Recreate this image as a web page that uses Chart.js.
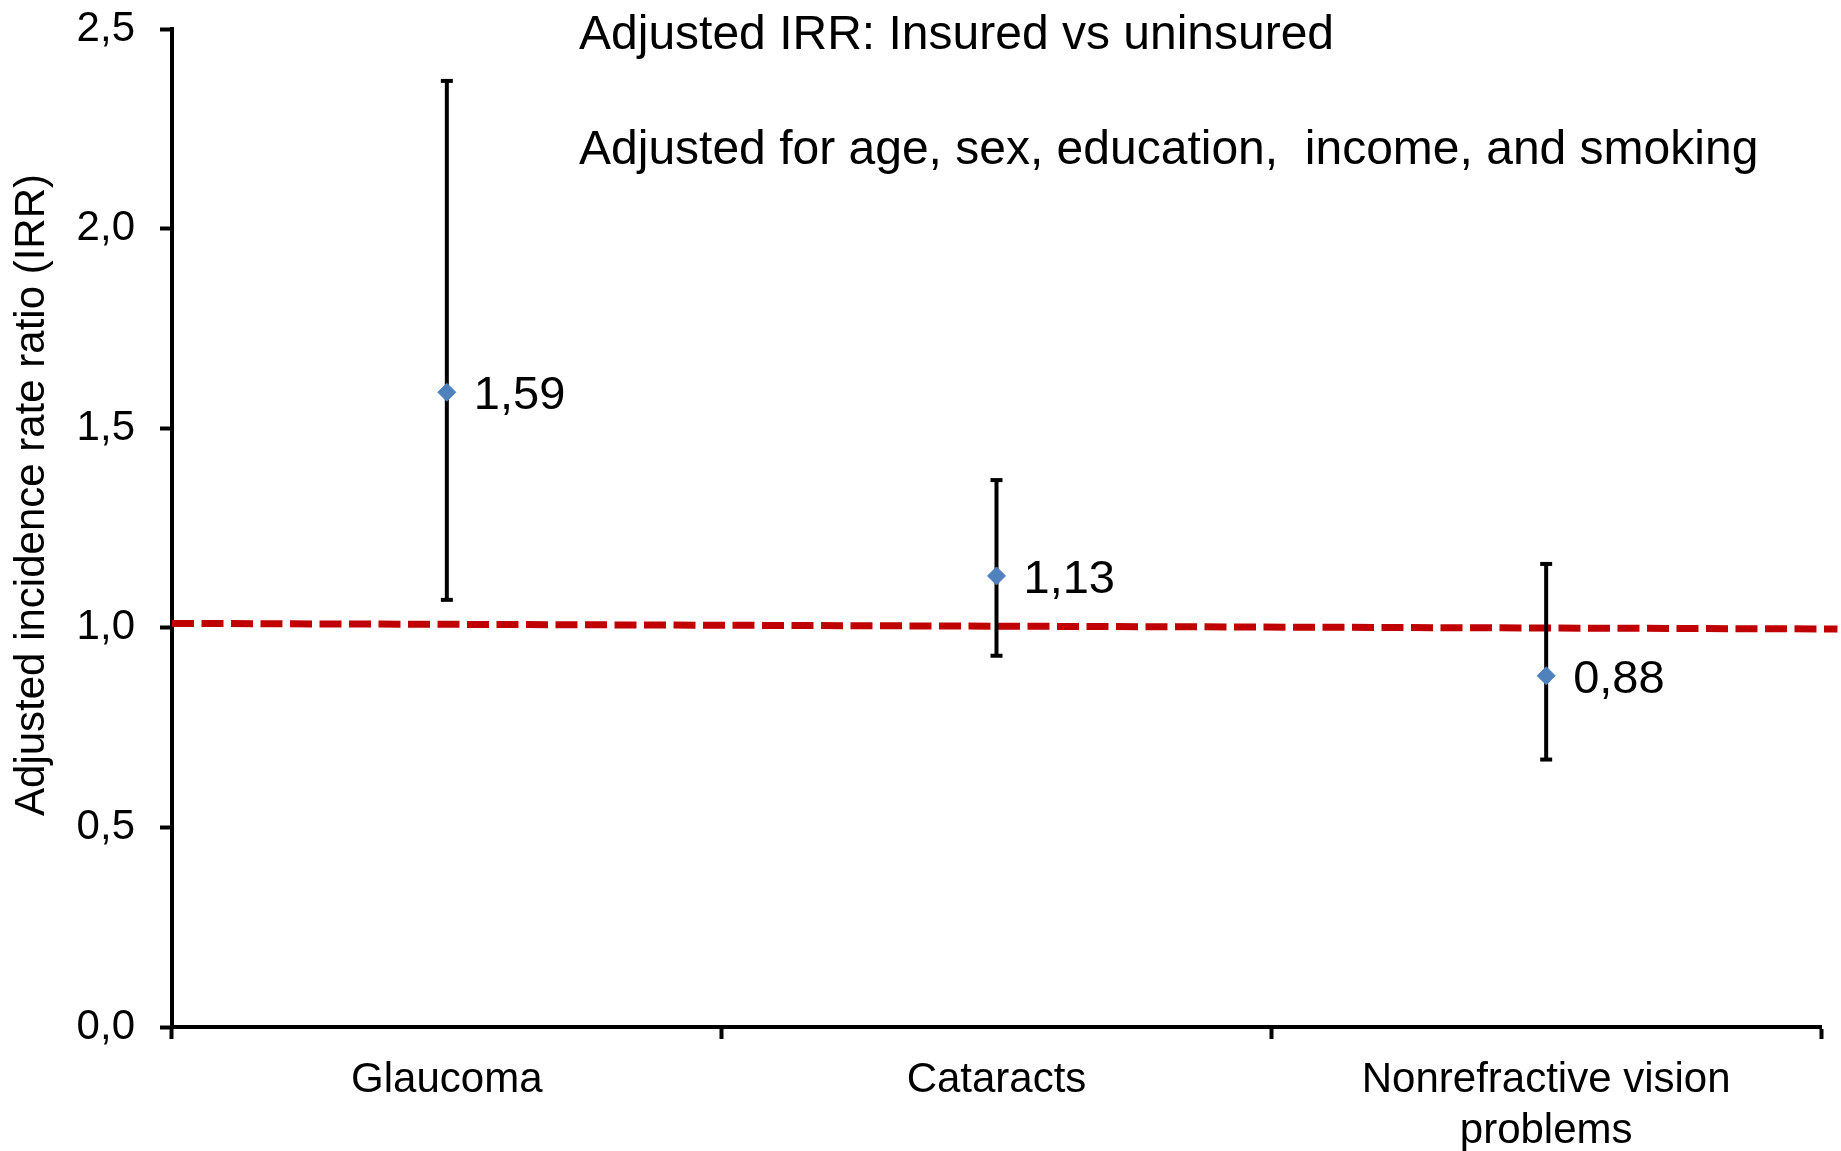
<!DOCTYPE html>
<html>
<head>
<meta charset="utf-8">
<script src="https://cdn.jsdelivr.net/npm/chart.js@4/dist/chart.umd.min.js"></script>
<style>
  html, body { margin: 0; padding: 0; background: #fff; }
  canvas { display: block; }
</style>
</head>
<body>
<canvas id="chart" width="1841" height="1151"></canvas>
<script>
// values
var categories = ['Glaucoma', 'Cataracts', ['Nonrefractive vision', 'problems']];
var irr = [1.59, 1.13, 0.88];
var ciLow = [1.07, 0.93, 0.67];
var ciHigh = [2.37, 1.37, 1.16];
// the red reference line (slightly tilted in the original)
var refLineX = [-0.5, 2.53];
var refLineY = [1.011, 0.997];
var yTitle = 'Adjusted incidence rate ratio (IRR)';
var notes = ['Adjusted IRR: Insured vs uninsured', 'Adjusted for age, sex, education,  income, and smoking'];

var FONT = '"Liberation Sans", Arial, sans-serif';

function fmt(v, d) {
    return v.toFixed(d).replace('.', ',');
}

var datasets = [];

// the IRR points
datasets.push({
    data: irr.map(function (v, i) { return { x: i, y: v }; }),
    xAxisID: 'xl',
    showLine: false,
    pointStyle: 'rectRot',
    pointRadius: 9,
    pointBackgroundColor: '#4F81BD',
    pointBorderColor: '#4F81BD',
    pointBorderWidth: 1,
    order: 0
});

// error bars, one small line dataset per category
irr.forEach(function (v, i) {
    datasets.push({
        data: [{ x: i, y: ciLow[i] }, { x: i, y: ciHigh[i] }],
        xAxisID: 'xl',
        borderColor: '#000',
        borderWidth: 4,
        pointStyle: 'line',
        pointRadius: 6,
        pointBorderColor: '#000',
        pointBorderWidth: 4,
        order: 1
    });
});

// dashed red line at ~1
datasets.push({
    data: refLineX.map(function (x, i) { return { x: x, y: refLineY[i] }; }),
    xAxisID: 'xl',
    borderColor: '#C00000',
    borderWidth: 7,
    borderDash: [22, 7.5],
    pointRadius: 0,
    clip: false,
    order: 2
});

var textPlugin = {
    id: 'texts',
    afterDatasetsDraw: function (chart) {
        var ctx = chart.ctx;
        var meta = chart.getDatasetMeta(0);
        ctx.save();
        ctx.fillStyle = '#000';
        ctx.textAlign = 'left';
        ctx.textBaseline = 'middle';
        ctx.font = '47px ' + FONT;
        meta.data.forEach(function (pt, i) {
            ctx.fillText(fmt(irr[i], 2), pt.x + 27, pt.y + 4);
        });
        ctx.font = '48px ' + FONT;
        ctx.fillText(notes[0], 579, 36);
        ctx.fillText(notes[1], 579, 151);
        ctx.translate(32, 495);
        ctx.rotate(-Math.PI / 2);
        ctx.textAlign = 'center';
        ctx.font = '42px ' + FONT;
        ctx.fillText(yTitle, 0, 0);
        ctx.restore();
    }
};

new Chart(document.getElementById('chart').getContext('2d'), {
    type: 'line',
    data: {
        labels: categories,
        datasets: datasets
    },
    options: {
        responsive: false,
        animation: false,
        devicePixelRatio: 1,
        layout: { padding: { top: 29, right: 20, left: 0, bottom: 0 } },
        plugins: {
            legend: { display: false },
            tooltip: { enabled: false }
        },
        scales: {
            x: {
                type: 'category',
                offset: true,
                grid: {
                    offset: true,
                    drawOnChartArea: false,
                    tickLength: 12,
                    tickWidth: 4,
                    tickColor: '#000'
                },
                border: { color: '#000', width: 4 },
                ticks: {
                    color: '#000',
                    padding: 16,
                    maxRotation: 0,
                    autoSkip: false,
                    font: { family: FONT, size: 42, lineHeight: 1.22 }
                },
                afterFit: function (scale) {
                    scale.height = 124;
                    scale.paddingLeft = 0;
                    scale.paddingRight = 0;
                }
            },
            xl: {
                type: 'linear',
                position: 'bottom',
                display: false,
                min: -0.5,
                max: 2.5
            },
            y: {
                min: 0,
                max: 2.5,
                grid: {
                    drawOnChartArea: false,
                    tickLength: 12,
                    tickWidth: 4,
                    tickColor: '#000'
                },
                border: { color: '#000', width: 4 },
                ticks: {
                    stepSize: 0.5,
                    color: '#000',
                    padding: 25,
                    font: { family: FONT, size: 42 },
                    callback: function (v) { return fmt(v, 1); }
                },
                afterFit: function (scale) {
                    scale.width = 172;
                    scale.paddingTop = 0;
                    scale.paddingBottom = 0;
                }
            }
        }
    },
    plugins: [textPlugin]
});
</script>
</body>
</html>
